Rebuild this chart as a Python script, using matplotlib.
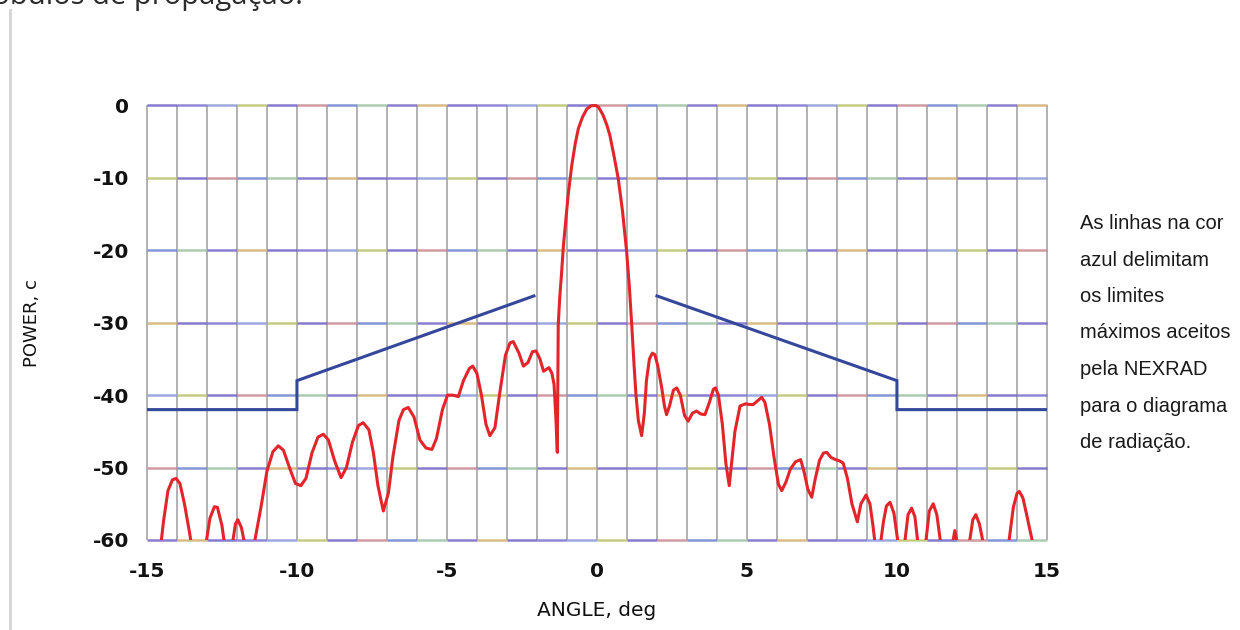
import numpy as np
import matplotlib
matplotlib.use("Agg")
import matplotlib.pyplot as plt
from matplotlib.patches import Rectangle

# ---------- DATA ----------
# measured antenna pattern (deg, dB)
angle_deg = [
    -14.6, -14.45, -14.3, -14.15, -14.03, -13.9, -13.75, -13.6, -13.5,
    -13.25, -13.05, -12.9, -12.75, -12.65, -12.5, -12.4,
    -12.3, -12.15, -12.05, -11.97, -11.85, -11.72, -11.55,
    -11.4, -11.2, -11.0, -10.8, -10.62, -10.45, -10.25, -10.05, -9.87,
    -9.7, -9.5, -9.3, -9.12, -8.95, -8.75, -8.53, -8.35, -8.15, -7.95,
    -7.79, -7.6, -7.45, -7.3, -7.12, -6.95, -6.8, -6.6, -6.45, -6.29,
    -6.1, -5.9, -5.7, -5.5, -5.35, -5.15, -4.98, -4.8, -4.62, -4.45,
    -4.25, -4.14, -4.0, -3.85, -3.7, -3.57, -3.4, -3.25, -3.05, -2.9,
    -2.79, -2.6, -2.45, -2.3, -2.15, -2.03, -1.9, -1.78, -1.6, -1.5,
    -1.43, -1.37, -1.32, -1.29, -1.24, -1.18, -1.12, -1.03, -0.96,
    -0.84, -0.72, -0.62, -0.48, -0.34, -0.2, -0.05, 0.05, 0.2, 0.33,
    0.43, 0.58, 0.71, 0.85, 0.99, 1.08, 1.16, 1.24, 1.3, 1.38, 1.49,
    1.58, 1.65, 1.75, 1.85, 1.93, 2.03, 2.16, 2.25, 2.32, 2.42, 2.55,
    2.66, 2.78, 2.92, 3.04, 3.18, 3.32, 3.46, 3.6, 3.75, 3.88, 3.95,
    4.05, 4.18, 4.3, 4.41, 4.5, 4.6, 4.77, 4.95, 5.1, 5.21, 5.35, 5.49,
    5.6, 5.75, 5.9, 6.05, 6.16, 6.3, 6.45, 6.62, 6.79, 6.9, 7.03, 7.16,
    7.28, 7.42, 7.55, 7.66, 7.8, 7.95, 8.1, 8.21, 8.35, 8.5, 8.68, 8.8,
    8.97, 9.1, 9.2, 9.3, 9.42, 9.55, 9.65, 9.77, 9.9, 10.04, 10.15,
    10.27, 10.37, 10.49, 10.6, 10.7, 10.84, 10.97, 11.08, 11.21, 11.33,
    11.46, 11.65, 11.86, 11.93, 12.01, 12.2, 12.43, 12.53, 12.63, 12.75,
    12.88, 13.3, 13.74, 13.88, 14.0, 14.08, 14.2, 14.35, 14.52, 14.7,
]
power_db = [
    -63, -57.5, -53.2, -51.7, -51.5, -52.2, -55, -58.5, -61,
    -66, -61, -57, -55.4, -55.5, -58, -61,
    -64, -60.5, -57.8, -57.2, -58.3, -61, -64,
    -60, -55.5, -50.5, -47.8, -47.0, -47.6, -50, -52.2, -52.5,
    -51.5, -48, -45.8, -45.4, -46.2, -49, -51.4, -50, -46.5, -44.2,
    -43.8, -44.8, -48, -52.5, -56.0, -53.5, -48.5, -43.5, -42, -41.7,
    -43, -46.2, -47.3, -47.5, -46, -42, -40.0, -40.0, -40.2, -38,
    -36.3, -36.0, -37, -40, -44, -45.6, -44.5, -40, -34.5, -32.8,
    -32.6, -34.2, -36.0, -35.5, -34.0, -33.9, -35, -36.7, -36.2, -37,
    -38.5, -43, -47.9, -30.3, -26.5, -23.2, -19.5, -15.5, -12.4,
    -8.3, -5.2, -3.2, -1.6, -0.5, -0.05, 0.0, -0.2, -1.3, -2.7,
    -4.1, -7.2, -10.1, -14.5, -20.2, -25, -30.3, -36, -39.9, -43.5, -45.6,
    -42.5, -38, -35, -34.2, -34.4, -36, -39, -41.5, -42.7, -41.5, -39.3,
    -39.0, -40, -42.8, -43.6, -42.5, -42.2, -42.6, -42.7, -41, -39.2, -39.0,
    -40, -44, -49.5, -52.5, -49, -45, -41.5, -41.2, -41.3, -41.3, -40.8, -40.3,
    -41, -44, -48.5, -52.3, -53.2, -52, -50.2, -49.2, -48.9, -50.5, -53, -54.1,
    -51.5, -49, -48, -47.9, -48.6, -48.9, -49.1, -49.4, -51.5, -55, -57.5, -55,
    -53.8, -55, -58, -61.5, -61.5, -57.5, -55.3, -54.8, -56.3, -60.5, -62,
    -60, -56.5, -55.6, -56.8, -60.5, -62, -60, -56, -55.0, -56.5,
    -60.5, -63, -60.3, -58.7, -60.3, -64, -60, -57.2, -56.5, -57.8,
    -60.5, -66, -60, -55.5, -53.6, -53.3, -54.2, -57, -60.3, -63,
]

# NEXRAD sidelobe limit (left and right branches)
mask_angle = [-15, -10, -10, -2.1, np.nan, 2.0, 10, 10, 15]
mask_db = [-42, -42, -38, -26.3, np.nan, -26.3, -38, -42, -42]

x_ticks = [-15, -10, -5, 0, 5, 10, 15]
y_ticks = [0, -10, -20, -30, -40, -50, -60]

note_lines = [
    "As linhas na cor",
    "azul delimitam",
    "os limites",
    "máximos aceitos",
    "pela NEXRAD",
    "para o diagrama",
    "de radiação.",
]

# ---------- FIGURE ----------
plt.rcParams["axes.unicode_minus"] = False
fig = plt.figure(figsize=(12.4, 6.3), dpi=100)
ax = fig.add_axes([0.1185, 0.1429, 0.7258, 0.6897])

ax.set_xlim(-15, 15)
ax.set_ylim(-60, 0)

# vertical grid every degree
x_grid = np.arange(-15, 16)
ax.vlines(x_grid, -60, 0, colors="#ababab", lw=1.3, zorder=1, clip_on=False)

# horizontal grid, printed in slightly uneven colours
grid_cols = ["#6f63c6", "#7c72cf", "#8a9ad8", "#bcc26e", "#6f63c6",
             "#c98892", "#6d84cf", "#9cc4a4", "#7468c8", "#d2b070"]
for k, yv in enumerate(y_ticks):
    xs = x_grid[:-1]
    cols = [grid_cols[(j + 3 * k) % len(grid_cols)] for j in range(len(xs))]
    ax.hlines([yv] * len(xs), xs, xs + 1, colors=cols, lw=1.8, alpha=0.85,
              zorder=1, clip_on=False)

ax.plot(mask_angle, mask_db, color="#34479a", lw=2.2, zorder=3,
        solid_joinstyle="miter")

line, = ax.plot(angle_deg, power_db, color="#e2252a", lw=2.2, zorder=4,
                solid_joinstyle="round")
clip = Rectangle((-15.2, -60), 30.4, 61.5, transform=ax.transData)
line.set_clip_path(clip)

for side in ax.spines.values():
    side.set_visible(False)

ax.set_xticks(x_ticks)
ax.set_yticks(y_ticks)
ax.tick_params(length=0)
ax.tick_params(axis="x", pad=16)
ax.tick_params(axis="y", pad=13)
for lab in ax.get_xticklabels() + ax.get_yticklabels():
    lab.set_fontfamily("DejaVu Sans")
    lab.set_fontweight("bold")
    lab.set_fontsize(14.5)
    lab.set_color("#111111")

ax.set_xlabel("ANGLE, deg", fontsize=14.5, family="DejaVu Sans", color="#111111")
ax.xaxis.set_label_coords(0.5, -0.14)
ax.xaxis.label.set_va("top")
ax.set_ylabel("POWER, c", fontsize=13, family="DejaVu Sans", color="#111111")
ax.yaxis.set_label_coords(-0.118, 0.5)

# side note
for i, txt in enumerate(note_lines):
    fig.text(1080 / 1240, 1 - (229 + 36.5 * i) / 630, txt,
             fontsize=14.5, family="Liberation Sans", color="#1a1a1a",
             ha="left", va="baseline")

# page furniture: cut-off caption above and left margin rule
fig.text(303 / 1240, 1 - 4 / 630, "lóbulos de propagação.", fontsize=21,
         family="Open Sans", color="#2b2b2b", ha="right", va="baseline")
fig.add_artist(plt.Line2D([10 / 1240, 10 / 1240], [0, 1 - 10 / 630],
                          color="#d4d4d4", lw=2))

fig.savefig("out.png", dpi=100)
